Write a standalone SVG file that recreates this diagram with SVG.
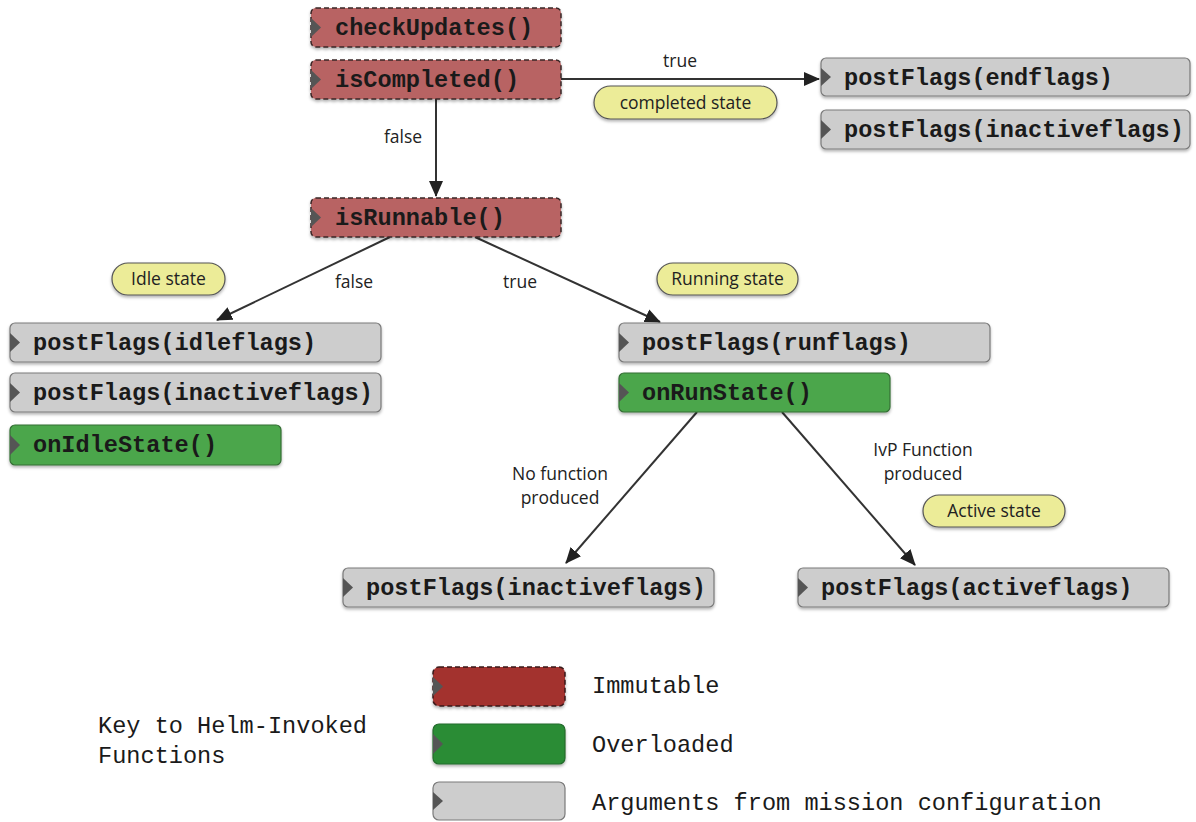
<svg xmlns="http://www.w3.org/2000/svg" width="1196" height="822" viewBox="0 0 1196 822">
<style>
.node rect{rx:5;ry:5}
.imm{fill:#b86464;stroke:#3a2626;stroke-width:1.5;stroke-dasharray:5 3}
.arg{fill:#cdcdcd;stroke:#7a7a7a;stroke-width:1.2}
.ovl{fill:#4ca64c;stroke:#356e35;stroke-width:1.2}
.limm{fill:#a3302f;stroke:#3a1a1a;stroke-width:1.5;stroke-dasharray:5 3}
.lovl{fill:#2a8c36;stroke:#236b2b;stroke-width:1.2}
.tri{fill:#555}
.code{font-family:"Liberation Mono","Courier New",monospace;font-weight:bold;font-size:23.6px;fill:#1a1a1a}
.key{font-family:"Liberation Mono","Courier New",monospace;font-size:23.6px;fill:#1a1a1a}
.lbl{font-family:"Open Sans","Liberation Sans",Arial,sans-serif;font-size:17.5px;fill:#222;text-anchor:middle}
.pill{fill:#ecec98;stroke:#555;stroke-width:1.2}
</style>
<defs>
<marker id="ahb" markerWidth="16" markerHeight="16" refX="15" refY="8" orient="auto" markerUnits="userSpaceOnUse" viewBox="0 0 16 16">
<path d="M0,1 L16,8 L0,15 Z" fill="#222"/>
</marker>
<filter id="sh" x="-5%" y="-20%" width="110%" height="150%">
<feDropShadow dx="0" dy="2" stdDeviation="1.5" flood-color="#000" flood-opacity="0.3"/>
</filter>
</defs>
<rect width="1196" height="822" fill="#fff"/>

<g id="connectors">
<line x1="561" y1="79" x2="819" y2="79" stroke="#333" stroke-width="2" marker-end="url(#ahb)"/>
<line x1="436" y1="99" x2="436" y2="196" stroke="#333" stroke-width="2" marker-end="url(#ahb)"/>
<line x1="390" y1="237" x2="217" y2="320" stroke="#333" stroke-width="2" marker-end="url(#ahb)"/>
<line x1="475" y1="237" x2="660" y2="322" stroke="#333" stroke-width="2" marker-end="url(#ahb)"/>
<line x1="697" y1="412" x2="566" y2="563" stroke="#333" stroke-width="2" marker-end="url(#ahb)"/>
<line x1="782" y1="412" x2="915" y2="565" stroke="#333" stroke-width="2" marker-end="url(#ahb)"/>
<text class="lbl" x="680" y="67">true</text>
<text class="lbl" x="403" y="143">false</text>
<text class="lbl" x="354" y="288">false</text>
<text class="lbl" x="520" y="288">true</text>
<text class="lbl" x="560" y="480">No function</text>
<text class="lbl" x="560" y="504">produced</text>
<text class="lbl" x="923" y="456">IvP Function</text>
<text class="lbl" x="923" y="480">produced</text>
</g>

<g id="pill-completed"><rect class="pill" x="594" y="86" width="183" height="33" rx="16.5" filter="url(#sh)"/><text class="lbl" x="685.5" y="108.5">completed state</text></g>
<g id="pill-idle"><rect class="pill" x="112" y="263" width="113" height="32" rx="16" filter="url(#sh)"/><text class="lbl" x="168.5" y="285">Idle state</text></g>
<g id="pill-running"><rect class="pill" x="657" y="263" width="141" height="32" rx="16" filter="url(#sh)"/><text class="lbl" x="727.5" y="285">Running state</text></g>
<g id="pill-active"><rect class="pill" x="923" y="495" width="142" height="32" rx="16" filter="url(#sh)"/><text class="lbl" x="994" y="517">Active state</text></g>

<g id="n-checkUpdates" class="node"><rect class="imm" x="311" y="8" width="250" height="39" filter="url(#sh)"/><polygon class="tri" points="311,18 321,27.5 311,37"/><text class="code" x="335" y="35">checkUpdates()</text></g>
<g id="n-isCompleted" class="node"><rect class="imm" x="311" y="60" width="250" height="39" filter="url(#sh)"/><polygon class="tri" points="311,70 321,79.5 311,89"/><text class="code" x="335" y="87">isCompleted()</text></g>
<g id="n-isRunnable" class="node"><rect class="imm" x="311" y="198" width="250" height="39" filter="url(#sh)"/><polygon class="tri" points="311,208 321,217.5 311,227"/><text class="code" x="335" y="225">isRunnable()</text></g>

<g id="n-endflags" class="node"><rect class="arg" x="821" y="58" width="369" height="38" filter="url(#sh)"/><polygon class="tri" points="821,68 831,77 821,86"/><text class="code" x="844" y="85">postFlags(endflags)</text></g>
<g id="n-inactive-top" class="node"><rect class="arg" x="821" y="110" width="369" height="39" filter="url(#sh)"/><polygon class="tri" points="821,120 831,129.5 821,139"/><text class="code" x="844" y="137">postFlags(inactiveflags)</text></g>

<g id="n-idleflags" class="node"><rect class="arg" x="10" y="323" width="371" height="39" filter="url(#sh)"/><polygon class="tri" points="10,333 20,342.5 10,352"/><text class="code" x="33" y="350">postFlags(idleflags)</text></g>
<g id="n-inactive-left" class="node"><rect class="arg" x="10" y="373" width="371" height="39" filter="url(#sh)"/><polygon class="tri" points="10,383 20,392.5 10,402"/><text class="code" x="33" y="400">postFlags(inactiveflags)</text></g>
<g id="n-onIdleState" class="node"><rect class="ovl" x="10" y="425" width="271" height="40" filter="url(#sh)"/><polygon class="tri" points="10,435 20,445 10,455"/><text class="code" x="33" y="452">onIdleState()</text></g>

<g id="n-runflags" class="node"><rect class="arg" x="619" y="323" width="371" height="39" filter="url(#sh)"/><polygon class="tri" points="619,333 629,342.5 619,352"/><text class="code" x="642" y="350">postFlags(runflags)</text></g>
<g id="n-onRunState" class="node"><rect class="ovl" x="619" y="373" width="271" height="39" filter="url(#sh)"/><polygon class="tri" points="619,383 629,392.5 619,402"/><text class="code" x="642" y="400">onRunState()</text></g>

<g id="n-inactive-bottom" class="node"><rect class="arg" x="343" y="568" width="371" height="39" filter="url(#sh)"/><polygon class="tri" points="343,578 353,587.5 343,597"/><text class="code" x="366" y="595">postFlags(inactiveflags)</text></g>
<g id="n-activeflags" class="node"><rect class="arg" x="798" y="568" width="371" height="39" filter="url(#sh)"/><polygon class="tri" points="798,578 808,587.5 798,597"/><text class="code" x="821" y="595">postFlags(activeflags)</text></g>

<g id="legend">
<text class="key" x="98" y="733">Key to Helm-Invoked</text>
<text class="key" x="98" y="763">Functions</text>
<g id="key-immutable"><rect class="limm" x="433" y="667" width="132" height="39" rx="6" filter="url(#sh)"/><polygon class="tri" points="433,677 443,686.5 433,696"/><text class="key" x="592" y="693">Immutable</text></g>
<g id="key-overloaded"><rect class="lovl" x="433" y="724" width="132" height="40" rx="6" filter="url(#sh)"/><polygon class="tri" points="433,734 443,744 433,754"/><text class="key" x="592" y="752">Overloaded</text></g>
<g id="key-arguments"><rect class="arg" x="433" y="782" width="132" height="38" rx="6"/><polygon class="tri" points="433,792 443,801 433,810"/><text class="key" x="592" y="810">Arguments from mission configuration</text></g>
</g>
</svg>
